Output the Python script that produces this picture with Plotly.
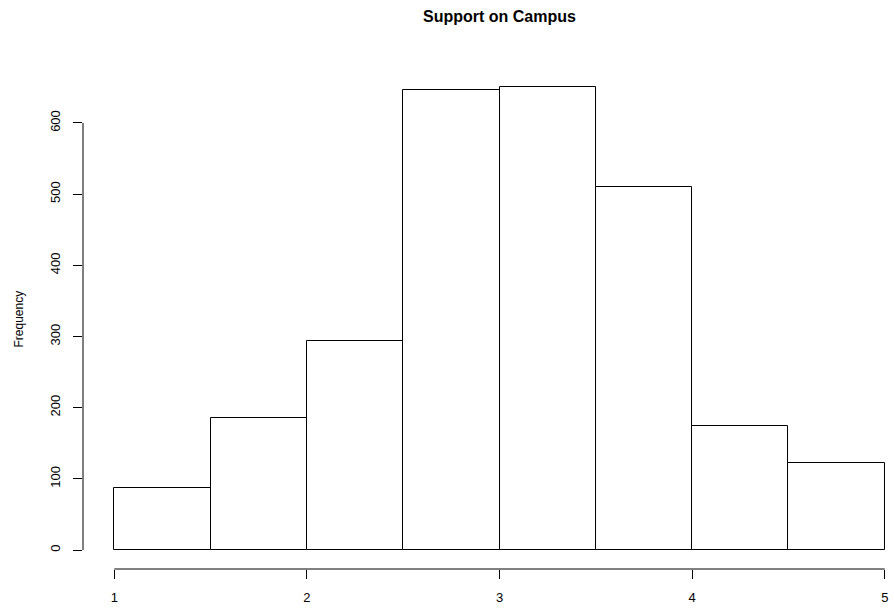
import plotly.graph_objects as go

# Data
breaks = [1.0, 1.5, 2.0, 2.5, 3.0, 3.5, 4.0, 4.5, 5.0]
counts = [87, 185, 293, 647, 650, 510, 174, 122]
x_ticks = [1, 2, 3, 4, 5]
y_ticks = [0, 100, 200, 300, 400, 500, 600]
title_text = "Support on Campus"
y_label = "Frequency"

centers = [(a + b) / 2 for a, b in zip(breaks[:-1], breaks[1:])]
widths = [b - a for a, b in zip(breaks[:-1], breaks[1:])]

FONT = "Liberation Sans, Arial, Helvetica, sans-serif"

fig = go.Figure()
fig.add_trace(go.Bar(
    x=centers, y=counts, width=widths,
    marker=dict(color="white", line=dict(color="black", width=1)),
    hoverinfo="x+y",
))

W, H = 894, 612
L, R, T, B = 83, 0, 69, 43

fig.update_layout(
    width=W, height=H,
    margin=dict(l=L, r=R, t=T, b=B, pad=0, autoexpand=False),
    plot_bgcolor="white", paper_bgcolor="white",
    showlegend=False,
    bargap=0,
    font=dict(family=FONT, size=13, color="black"),
    xaxis=dict(
        range=[0.8375, 5.048], tickmode="array", tickvals=x_ticks,
        ticktext=[str(v) for v in x_ticks],
        ticks="outside", ticklen=9, tickwidth=1, tickcolor="black",
        showline=False, showgrid=False, zeroline=False, automargin=False,
        ticklabelstandoff=7,
        tickfont=dict(family=FONT, size=13, color="black"),
    ),
    yaxis=dict(
        range=[-26.7, 675.8], tickmode="array", tickvals=y_ticks,
        ticktext=[str(v) for v in y_ticks],
        ticks="outside", ticklen=9, tickwidth=1, tickcolor="black",
        showline=False, showgrid=False, zeroline=False, automargin=False,
        tickangle=-90, ticklabelstandoff=8,
        tickfont=dict(family=FONT, size=13, color="black"),
    ),
    shapes=[
        dict(type="line", xref="x", yref="paper",
             x0=min(x_ticks), x1=max(x_ticks), y0=0, y1=0,
             line=dict(color="black", width=1)),
        dict(type="line", xref="paper", yref="y",
             x0=0, x1=0, y0=min(y_ticks), y1=max(y_ticks),
             line=dict(color="black", width=1)),
    ],
    annotations=[
        dict(text="<b>" + title_text + "</b>", xref="paper", yref="paper",
             x=(499.4 - L) / (W - L - R), y=1 + (T - 17) / (H - T - B),
             xanchor="center", yanchor="middle", showarrow=False,
             font=dict(family=FONT, size=16, color="black")),
        dict(text=y_label, xref="paper", yref="paper",
             x=(18.5 - L) / (W - L - R), y=0.5,
             xanchor="center", yanchor="middle", showarrow=False,
             textangle=-90,
             font=dict(family=FONT, size=12, color="black")),
    ],
)

fig.write_html(
    "out.html",
    config={"displayModeBar": False},
    post_script="document.body.style.margin='0';document.body.style.padding='0';document.body.style.overflow='hidden';",
)
